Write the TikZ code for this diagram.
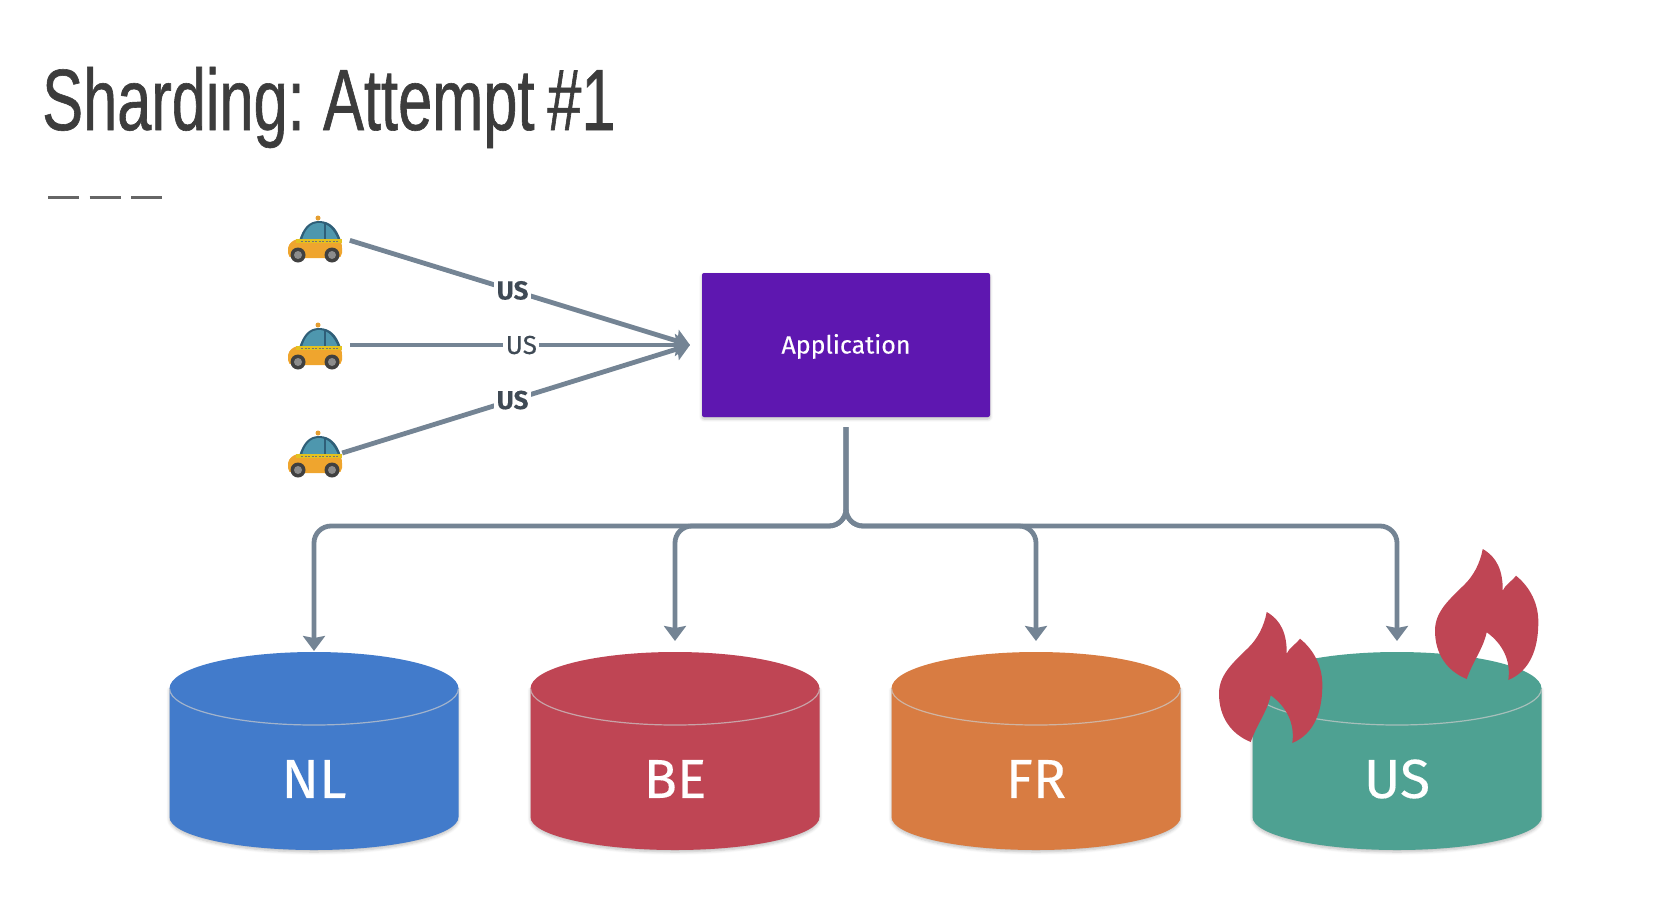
\documentclass[tikz,border=0pt]{standalone}
\usepackage{fontspec}
\usepackage{tikz}
\usetikzlibrary{arrows.meta,shadows.blur}
\newfontfamily\dinfont[FakeBold=0.25]{Fira Sans}
\newfontfamily\titlefont[FakeStretch=0.705,FakeBold=0.7,WordSpace=0.75]{Liberation Sans}
\definecolor{linkgray}{HTML}{748494}
\definecolor{appviolet}{HTML}{5E17B0}
\definecolor{nlblue}{HTML}{427BCB}
\definecolor{bered}{HTML}{BF4554}
\definecolor{frorange}{HTML}{D87C42}
\definecolor{usgreen}{HTML}{4EA192}
\definecolor{titleink}{HTML}{3C3C3C}
\definecolor{labelink}{HTML}{3F4A55}
\definecolor{cabbody}{HTML}{EFA52E}
\definecolor{cabstripe}{HTML}{E3C21F}
\definecolor{cabglass}{HTML}{4E97AE}
\definecolor{cabframe}{HTML}{2F5F78}
\tikzset{
	softshadow/.style={blur shadow={shadow blur steps=5,shadow xshift=0pt,shadow yshift=-2pt,shadow blur radius=3pt,shadow opacity=25}},
	link/.style={draw=linkgray,line width=4.8pt,-{Stealth[length=15pt,width=22pt,inset=2pt]}},
	tag/.style={fill=white,inner sep=2.5pt,text=labelink,font=\dinfont\fontsize{26}{26}\selectfont},
	boldtag/.style={tag,font=\dinfont\bfseries\fontsize{26}{26}\selectfont},
	taxi/.style={minimum width=54pt,minimum height=44pt,inner sep=0pt},
	pics/taxicab/.style={code={
		\fill[cabbody!80!brown] (3,-22) circle (2.5);
		\fill[cabframe] (-16,1) .. controls (-12,-12) and (-6,-19) .. (4,-19) .. controls (15,-19) and (22,-12) .. (26,1) -- cycle;
		\fill[cabglass] (-13,0) .. controls (-10,-10) and (-5,-17) .. (4,-17) .. controls (13,-17) and (19,-10) .. (23,0) -- cycle;
		\fill[cabframe] (9,-17) rectangle (11,0);
		\fill[cabbody] (-27,13) -- (-27,8) .. controls (-26,3) and (-22,0) .. (-17,-1) -- (24,-1) .. controls (26,1) and (27,4) .. (27,8) -- (27,13) .. controls (27,16) and (25,18) .. (22,18) -- (-22,18) .. controls (-25,18) and (-27,16) .. (-27,13) -- cycle;
		\fill[cabstripe] (-19,-1) rectangle (27,3);
		\draw[black!55,line width=1pt,dash pattern=on 2pt off 1.5pt] (-14,1) -- (24,1);
		\foreach \W in {-17,17}
		{\fill[black!75] (\W,15) circle (7.5);
		\fill[black!45] (\W,15) circle (4);}
	}},
	pics/flame/.style={code={
		\fill[bered] (47.7,0) .. controls (62,8) and (68,22) .. (67.7,41.7) .. controls (70,36) and (76,33) .. (81,26.7) .. controls (95,38) and (104,55) .. (103.3,75) .. controls (103,100) and (95,122) .. (73.3,131) .. controls (76,112) and (68,95) .. (51.7,83.3) .. controls (48,100) and (38,112) .. (31.7,130) .. controls (12,122) and (0,105) .. (0,81.7) .. controls (0,62) and (15,50) .. (30,35) .. controls (38,27) and (45,15) .. (47.7,0) -- cycle;
	}}
}
\begin{document}
\begin{tikzpicture}[x=1pt,y=-1pt]
	\useasboundingbox (0,0) rectangle (1662,910);
	\node[anchor=base west,inner sep=0pt,text=titleink,font=\titlefont\fontsize{87}{87}\selectfont] (title) at (42,130) {Sharding: Attempt \#1};
	\coordinate (rulestart) at (48,197);
	\coordinate (ruleend) at (162,197);
	\draw[black!60,line width=3pt,dash pattern=on 31pt off 10.5pt] (rulestart) -- (ruleend);
	\node[fill=appviolet,rounded corners=2pt,minimum width=288pt,minimum height=144pt,inner sep=0pt,softshadow,text=white,font=\dinfont\fontsize{25}{25}\selectfont,text height=18pt,text depth=1pt] (app) at (846,345) {Application};
	\coordinate (inlet) at (690,345);
	\foreach \Y [count=\Z] in {238,345,453}
	{\node[taxi] (car\Z) at (315,\Y) {};
	\pic[yshift=-2pt] at (car\Z) {taxicab};}
	\foreach \X/\Name/\Fill/\Tip in {314/NL/nlblue/651, 675/BE/bered/641, 1036/FR/frorange/641, 1397/US/usgreen/641}
	{\fill[\Fill,softshadow] (\X-144.5,688) -- (\X-144.5,817) arc[start angle=180,end angle=360,x radius=144.5pt,y radius=33pt] -- (\X+144.5,688) -- cycle;
	\fill[\Fill] (\X,688.5) ellipse[x radius=144.5pt,y radius=36.5pt];
	\draw[black!20!white,line width=1.2pt,opacity=.7] (\X-144.5,688.5) arc[start angle=180,end angle=360,x radius=144.5pt,y radius=36.5pt];
	\node[text=white,font=\dinfont\fontsize{55}{55}\selectfont] (\Name) at (\X,779) {\Name};
	\coordinate (top\Name) at (\X,\Tip);}
	\draw[link,shorten <=8pt] (car1.east) -- node[boldtag,pos=.49] (tagone) {US} (inlet);
	\draw[link,shorten <=8pt] (car2.east) -- node[tag,pos=.515] (tagtwo) {US} (inlet);
	\draw[link] (car3.east) -- node[boldtag,pos=.49] (tagthree) {US} (inlet);
	\coordinate (bus) at (846,526);
	\foreach \Name in {NL,BE,FR,US}
	{\draw[link,rounded corners=17pt,shorten <=10pt] (app.south) -- (bus) -| (top\Name);}
	\pic at (1219,612) {flame};
	\pic at (1435,549) {flame};
\end{tikzpicture}
\end{document}
